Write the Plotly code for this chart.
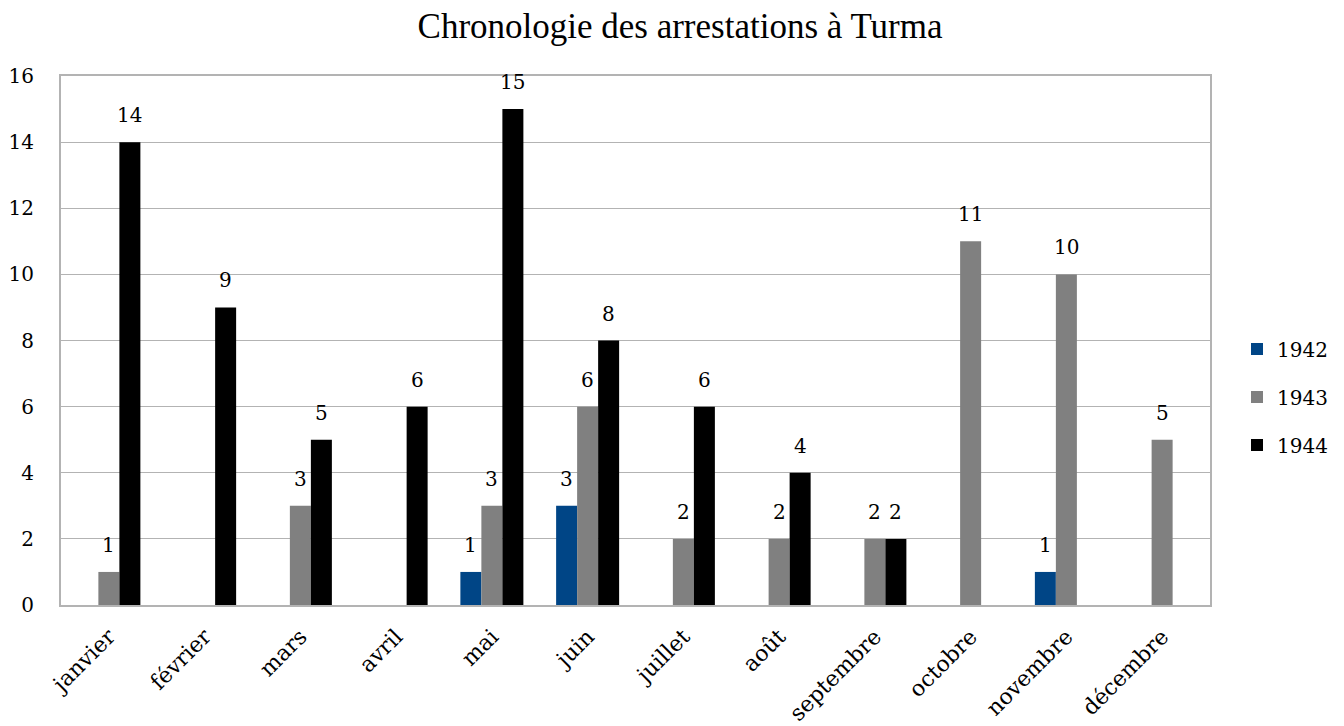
import plotly.graph_objects as go

months = ["janvier", "février", "mars", "avril", "mai", "juin", "juillet",
          "août", "septembre", "octobre", "novembre", "décembre"]
v1942 = [None, None, None, None, 1, 3, None, None, None, None, 1, None]
v1943 = [1, None, 3, None, 3, 6, 2, 2, 2, 11, 10, 5]
v1944 = [14, 9, 5, 6, 15, 8, 6, 4, 2, None, None, None]
series = [("1942", v1942, "#004586"), ("1943", v1943, "#808080"), ("1944", v1944, "#000000")]

FONT = "DejaVu Serif"
TITLE_FONT = "serif"
BAR_PX = 21  # pixel width of one bar, for label offsets

fig = go.Figure()
for i, (name, vals, col) in enumerate(series):
    fig.add_trace(go.Bar(
        x=months, y=vals, name=name, marker_color=col, marker_line_width=0,
        legendgroup=name,
    ))
    for m, v in zip(months, vals):
        if v is not None:
            fig.add_annotation(x=m, y=v, text=str(v), showarrow=False,
                               xanchor="center", yanchor="bottom",
                               xshift=(i - 1) * BAR_PX, yshift=13,
                               font=dict(family=FONT, size=20, color="black"))

fig.update_layout(
    width=1344, height=726,
    margin=dict(l=53, r=142, t=68, b=129, autoexpand=False),
    paper_bgcolor="white", plot_bgcolor="white",
    barmode="group", bargap=0.342, bargroupgap=0,
    font=dict(family=FONT, size=20, color="black"),
    title=dict(text="Chronologie des arrestations à Turma", x=0.5, xanchor="center",
               y=1 - 18 / 726, yanchor="middle",
               font=dict(family=TITLE_FONT, size=35, color="black")),
    legend=dict(x=1.0235, xanchor="left", y=0.393, yanchor="middle",
                font=dict(family=FONT, size=20), tracegroupgap=19),
    showlegend=True,
)
fig.update_xaxes(tickangle=-45, showline=True, linecolor="#b3b3b3", linewidth=2,
                 mirror=True, ticks="", ticklabelstandoff=8, automargin=False,
                 tickfont=dict(family=FONT, size=22))
fig.update_yaxes(range=[0, 16], dtick=2, showline=True, linecolor="#b3b3b3", linewidth=2,
                 mirror=True, showgrid=True, gridcolor="#b3b3b3", gridwidth=1,
                 zeroline=False, ticks="", ticklabelstandoff=21, automargin=False,
                 tickfont=dict(family=FONT, size=20))

fig.write_html("out.html")
